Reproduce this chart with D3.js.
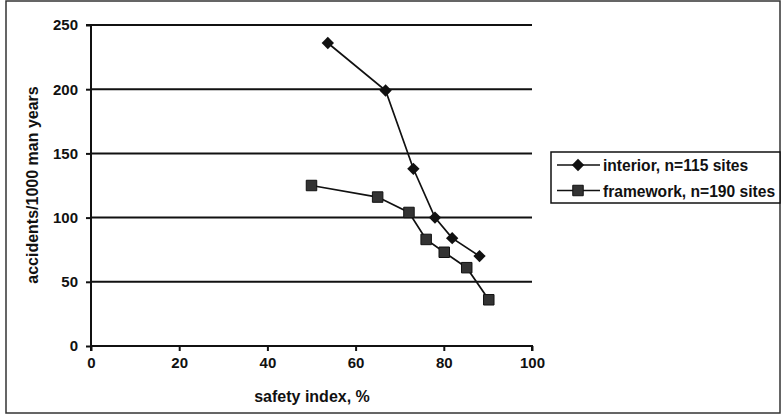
<!DOCTYPE html>
<html><head><meta charset="utf-8">
<script src="https://cdn.jsdelivr.net/npm/d3@7"></script>
<style>
body{margin:0;background:#fff;}
svg{display:block;font-family:"Liberation Sans",Arial,sans-serif;font-weight:bold;}
</style></head>
<body><svg id="c" width="783" height="415"></svg>
<script>
const interiorX = [53.7, 66.8, 73.1, 78.0, 81.9, 88.1];
const interiorY = [236, 199, 138, 100, 84, 70];
const frameworkX = [50.0, 65.0, 72.1, 76.0, 80.1, 85.2, 90.2];
const frameworkY = [125, 116, 104, 83, 73, 61, 36];
const xTicks = [0, 20, 40, 60, 80, 100];
const yTicks = [0, 50, 100, 150, 200, 250];
const seriesNames = ["interior, n=115 sites", "framework, n=190 sites"];
const xLabel = "safety index, %";
const yLabel = "accidents/1000 man years";

const svg = d3.select("#c");
const ink = "#111";
svg.append("rect").attr("x",6).attr("y",1).attr("width",774).attr("height",412)
  .attr("fill","#fff").attr("stroke","#333").attr("stroke-width",1.5);

const x = d3.scaleLinear().domain([0,100]).range([91,532]);
const y = d3.scaleLinear().domain([0,250]).range([346,25]);

// gridlines
svg.append("g").selectAll("line").data(yTicks.filter(d=>d>0)).join("line")
  .attr("x1",x(0)).attr("x2",x(100)).attr("y1",d=>y(d)).attr("y2",d=>y(d))
  .attr("stroke",ink).attr("stroke-width",2);

const yAxis = svg.append("g").attr("transform",`translate(${x(0)},0)`)
  .call(d3.axisLeft(y).tickValues(yTicks).tickSize(5).tickPadding(8));
const xAxis = svg.append("g").attr("transform",`translate(0,${y(0)})`)
  .call(d3.axisBottom(x).tickValues(xTicks).tickSize(5).tickPadding(6));
[yAxis,xAxis].forEach(a=>{
  a.selectAll("path").attr("stroke",ink).attr("stroke-width",2);
  a.selectAll("line").attr("stroke",ink).attr("stroke-width",2);
  a.selectAll("text").attr("font-size",15).attr("font-weight","bold")
    .attr("font-family","Liberation Sans, Arial, sans-serif").attr("fill",ink);
});
yAxis.select(".domain").attr("d",`M-5,${y(250)}H0V${y(0)}`);
xAxis.select(".domain").attr("d",`M${x(0)},5V0H${x(100)}V5`);

svg.append("text").attr("x",312).attr("y",402).attr("text-anchor","middle")
  .attr("font-size",16).attr("fill",ink).text(xLabel);
svg.append("text").attr("transform","translate(38,185) rotate(-90)")
  .attr("text-anchor","middle").attr("font-size",16).attr("fill",ink).text(yLabel);

const line = d3.line().x(d=>x(d[0])).y(d=>y(d[1]));
const interior = interiorX.map((v,i)=>[v,interiorY[i]]);
const framework = frameworkX.map((v,i)=>[v,frameworkY[i]]);

svg.append("path").datum(interior).attr("d",line).attr("fill","none").attr("stroke",ink).attr("stroke-width",1.7);
svg.append("path").datum(framework).attr("d",line).attr("fill","none").attr("stroke",ink).attr("stroke-width",1.7);

const diamond = d3.symbol().type(d3.symbolSquare).size(76);
const square = d3.symbol().type(d3.symbolSquare).size(110);
svg.append("g").selectAll("path").data(interior).join("path")
  .attr("transform",d=>`translate(${x(d[0])},${y(d[1])}) rotate(45)`)
  .attr("d",diamond).attr("fill",ink);
svg.append("g").selectAll("path").data(framework).join("path")
  .attr("transform",d=>`translate(${x(d[0])},${y(d[1])})`)
  .attr("d",square).attr("fill","#333").attr("stroke","#111").attr("stroke-width",1);

// legend
const lg = svg.append("g");
lg.append("rect").attr("x",551).attr("y",152).attr("width",229).attr("height",51)
  .attr("fill","#fff").attr("stroke",ink).attr("stroke-width",1.5);
[0,1].forEach(i=>{
  const cy = 165 + i*25.5;
  lg.append("line").attr("x1",557).attr("x2",600).attr("y1",cy).attr("y2",cy)
    .attr("stroke",ink).attr("stroke-width",1.5);
  if(i===0){
    lg.append("path").attr("transform",`translate(578,${cy}) rotate(45)`)
      .attr("d",diamond).attr("fill",ink);
  } else {
    lg.append("path").attr("transform",`translate(578,${cy})`)
      .attr("d",square).attr("fill","#333").attr("stroke","#111");
  }
  lg.append("text").attr("x",603).attr("y",cy+6).attr("font-size",15.6).attr("fill",ink).text(seriesNames[i]);
});
</script></body></html>
